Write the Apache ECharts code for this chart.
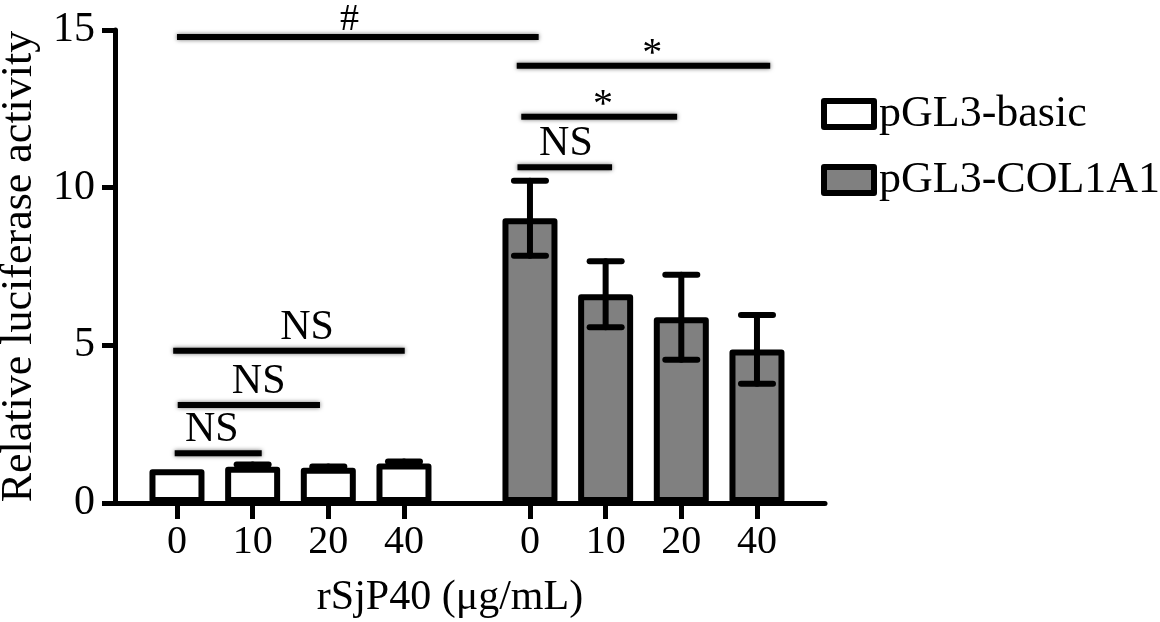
<!DOCTYPE html>
<html><head><meta charset="utf-8">
<script src="https://cdn.jsdelivr.net/npm/echarts@6/dist/echarts.min.js"></script>
<style>html,body{margin:0;padding:0;background:#fff}#c{width:1160px;height:622px}</style>
</head><body><div id="c"></div>
<script>
const doseLabels = ['0', '10', '20', '40'];
const seriesNames = ['pGL3-basic', 'pGL3-COL1A1'];
const basicMean = [1.07, 1.15, 1.12, 1.25];
const basicErr = [0.0, 0.07, 0.04, 0.07];
const colMean = [9.03, 6.62, 5.89, 4.87];
const colErr = [1.19, 1.05, 1.35, 1.09];
const yTicks = [0, 5, 10, 15];
const xTitle = 'rSjP40 (μg/mL)';
const yTitle = 'Relative luciferase activity';
// significance brackets: [startX, endX, yValue, labelX, label]
const brackets = [
  [-0.03, 1.12, 1.58, 0.46, 'NS'],
  [0.01, 1.89, 3.11, 1.08, 'NS'],
  [-0.05, 3.01, 4.83, 1.72, 'NS'],
  [0.0, 4.78, 14.78, 2.28, '#'],
  [4.50, 5.75, 10.65, 5.14, 'NS'],
  [4.55, 6.61, 12.25, 5.63, '*'],
  [4.49, 7.84, 13.87, 6.28, '*']
];

const groupStart = [0, 4.665];
const FAM = 'Liberation Serif';
const pos = [];
const labelsAll = [];
groupStart.forEach(g => doseLabels.forEach((d, i) => { pos.push(g + i); labelsAll.push(d); }));
function labelAt(v) {
  let best = 0;
  pos.forEach((p, i) => { if (Math.abs(p - v) < Math.abs(pos[best] - v)) best = i; });
  return labelsAll[best];
}
const basicData = basicMean.map((m, i) => [groupStart[0] + i, m]);
const colData = colMean.map((m, i) => [groupStart[1] + i, m]);
const errData = basicMean.map((m, i) => [groupStart[0] + i, m, basicErr[i]])
  .concat(colMean.map((m, i) => [groupStart[1] + i, m, colErr[i]]));

const labelOffset = { 'NS': 23, '*': 11, '#': 17 };
const labelSize = { 'NS': 42, '*': 40, '#': 38 };

const chart = echarts.init(document.getElementById('c'));
chart.setOption({
  animation: false,
  backgroundColor: '#fff',
  grid: { left: 115, right: 335, top: 30, bottom: 119, containLabel: false, outerBoundsMode: 'none' },
  legend: {
    data: seriesNames, orient: 'vertical', left: 821, top: 92, padding: 0,
    itemWidth: 50, itemHeight: 26, itemGap: 22, icon: 'rect',
    itemStyle: { borderWidth: 6, borderColor: '#000', borderJoin: 'round' },
    textStyle: { fontSize: 44, fontFamily: FAM, color: '#000', lineHeight: 32 }
  },
  xAxis: {
    type: 'value', min: -0.819, max: 8.564,
    splitLine: { show: false },
    axisLine: { show: true, onZero: false, lineStyle: { color: '#000', width: 5 } },
    axisTick: { show: true, customValues: pos, length: 16, lineStyle: { color: '#000', width: 5 } },
    axisLabel: { customValues: pos, formatter: v => labelAt(v), fontSize: 40, fontFamily: FAM, color: '#000', margin: 19 }
  },
  yAxis: {
    type: 'value', min: 0, max: 15, interval: 5,
    name: yTitle, nameLocation: 'middle', nameGap: 74,
    nameTextStyle: { fontSize: 44, fontFamily: FAM, color: '#000' },
    splitLine: { show: false },
    axisLine: { show: true, onZero: false, lineStyle: { color: '#000', width: 5 } },
    axisTick: { show: true, length: 13, lineStyle: { color: '#000', width: 5 } },
    axisLabel: { fontSize: 42, fontFamily: FAM, color: '#000', margin: 20, formatter: v => yTicks.includes(v) ? String(v) : '' }
  },
  graphic: [{
    type: 'text',
    style: { text: xTitle, x: 450, y: 598, fontSize: 42, fontFamily: FAM, fill: '#000', align: 'center', verticalAlign: 'middle', textAlign: 'center', textVerticalAlign: 'middle' }
  }],
  series: [
    {
      name: seriesNames[0], type: 'bar', data: basicData, barWidth: 55, barGap: '-100%',
      itemStyle: { color: '#fff', borderColor: '#000', borderWidth: 6, borderJoin: 'round' }, z: 2
    },
    {
      name: seriesNames[1], type: 'bar', data: colData, barWidth: 55, barGap: '-100%',
      itemStyle: { color: '#808080', borderColor: '#000', borderWidth: 6, borderJoin: 'round' }, z: 2
    },
    {
      type: 'custom', z: 5, silent: true, data: errData, encode: { x: 0, y: 1 },
      renderItem: function (params, api) {
        const x = api.value(0), m = api.value(1), e = api.value(2);
        if (e <= 0) return null;
        const top = api.coord([x, m + e]);
        const bot = api.coord([x, m - e]);
        const hw = 16;
        const st = { stroke: '#000', lineWidth: 6, lineCap: 'round' };
        return {
          type: 'group', children: [
            { type: 'line', shape: { x1: top[0], y1: top[1], x2: bot[0], y2: bot[1] }, style: st },
            { type: 'line', shape: { x1: top[0] - hw, y1: top[1], x2: top[0] + hw, y2: top[1] }, style: st },
            { type: 'line', shape: { x1: bot[0] - hw, y1: bot[1], x2: bot[0] + hw, y2: bot[1] }, style: st }
          ]
        };
      }
    },
    {
      type: 'custom', z: 6, silent: true, data: brackets, encode: { x: [0, 1], y: 2 },
      renderItem: function (params, api) {
        const b = brackets[params.dataIndex];
        const p1 = api.coord([b[0], b[2]]);
        const p2 = api.coord([b[1], b[2]]);
        const pl = api.coord([b[3], b[2]]);
        const lab = b[4];
        return {
          type: 'group', children: [
            { type: 'line', shape: { x1: p1[0], y1: p1[1], x2: p2[0], y2: p2[1] },
              style: { stroke: '#000', lineWidth: 6, shadowBlur: 4, shadowColor: 'rgba(0,0,0,0.55)' } },
            { type: 'text', style: { text: lab, x: pl[0], y: pl[1] - labelOffset[lab], fontSize: labelSize[lab], fontFamily: FAM, fill: '#000',
              align: 'center', verticalAlign: 'middle', textAlign: 'center', textVerticalAlign: 'middle' } }
          ]
        };
      }
    }
  ]
});
</script>
</body></html>
